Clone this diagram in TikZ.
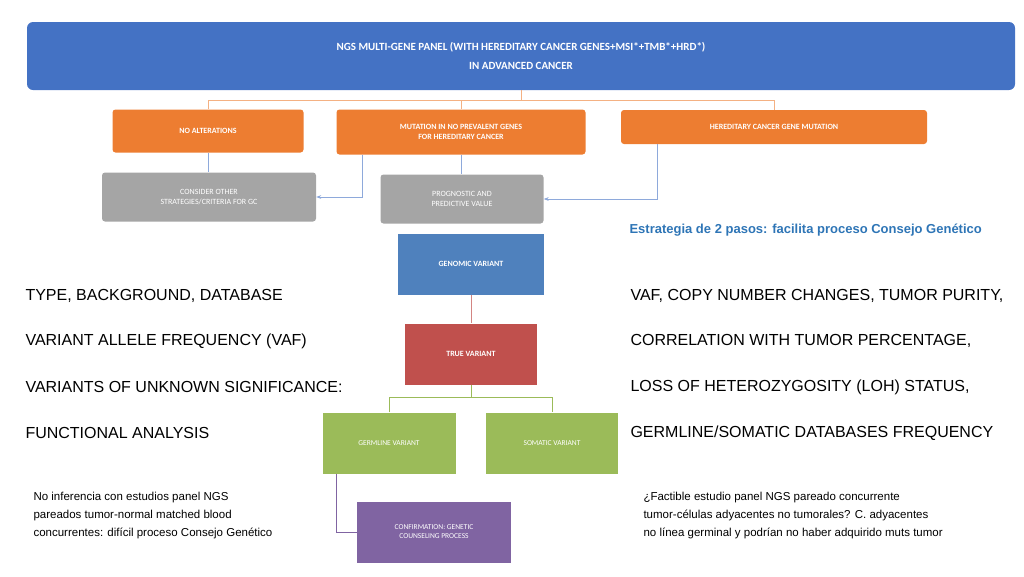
\documentclass[tikz,border=0pt]{standalone}
\usepackage{fontspec}
\setmainfont{Liberation Sans}
\newfontfamily\boxfont{Carlito}
\usetikzlibrary{positioning, calc, arrows.meta}
\definecolor{topblue}{HTML}{4472C4}
\definecolor{orng}{HTML}{ED7D31}
\definecolor{grey}{HTML}{A5A5A5}
\definecolor{genblue}{HTML}{4F81BD}
\definecolor{truered}{HTML}{C0504D}
\definecolor{leafgreen}{HTML}{9BBB59}
\definecolor{purp}{HTML}{8064A2}
\definecolor{linkblue}{HTML}{8EA9DB}
\definecolor{salmon}{HTML}{F4B183}
\definecolor{notetext}{HTML}{2E75B6}
\tikzset{
  box/.style={rectangle, text=white, align=center, inner sep=2pt,
    font=\boxfont\fontsize{8}{9.5}\selectfont\bfseries},
  link/.style={draw, line width=0.7pt},
  side/.style={anchor=west, font=\fontsize{16}{18}\selectfont},
  note/.style={anchor=north west, align=left, font=\fontsize{11.5}{18}\selectfont}
}
\begin{document}
\begin{tikzpicture}[x=1pt, y=-1pt]
  \useasboundingbox (0,0) rectangle (1024,576);
  % Place nodes
  \node [box, fill=topblue, rounded corners=6pt, minimum width=988pt, minimum height=68pt,
    font=\boxfont\fontsize{11}{19}\selectfont\bfseries] (panel) at (521,56)
    {NGS MULTI-GENE PANEL (WITH HEREDITARY CANCER GENES+MSI*+TMB*+HRD*)\\IN ADVANCED CANCER};
  \node [box, fill=orng, rounded corners=3pt, minimum width=191pt, minimum height=43pt] (noalt) at (208,131) {NO ALTERATIONS};
  \node [box, fill=orng, rounded corners=3pt, minimum width=249pt, minimum height=45pt] (nonprev) at (461,132) {MUTATION IN NO PREVALENT GENES\\FOR HEREDITARY CANCER};
  \node [box, fill=orng, rounded corners=3pt, minimum width=306pt, minimum height=34pt] (hered) at (774,127) {HEREDITARY CANCER GENE MUTATION};
  \node [box, fill=grey, rounded corners=3pt, minimum width=214pt, minimum height=49pt, font=\boxfont\fontsize{8}{9.5}\selectfont] (other) at (209,197) {CONSIDER OTHER\\STRATEGIES/CRITERIA FOR GC};
  \node [box, fill=grey, rounded corners=3pt, minimum width=163pt, minimum height=49pt, font=\boxfont\fontsize{8}{9.5}\selectfont] (progn) at (462,199) {PROGNOSTIC AND\\PREDICTIVE VALUE};
  \node [box, fill=genblue, minimum width=146pt, minimum height=61pt] (genomic) at (471,264) {GENOMIC VARIANT};
  \node [box, fill=truered, minimum width=132pt, minimum height=61pt] (true) at (471,354) {TRUE VARIANT};
  \node [box, fill=leafgreen, minimum width=133pt, minimum height=61pt, font=\boxfont\fontsize{7.5}{9}\selectfont] (germ) at (389,443) {GERMLINE VARIANT};
  \node [box, fill=leafgreen, minimum width=132pt, minimum height=61pt, font=\boxfont\fontsize{7.5}{9}\selectfont] (soma) at (552,443) {SOMATIC VARIANT};
  \node [box, fill=purp, minimum width=154pt, minimum height=61pt, font=\boxfont\fontsize{7.5}{9}\selectfont] (confirm) at (434,532) {CONFIRMATION: GENETIC\\COUNSELING PROCESS};
  % Texts
  \node [anchor=west, text=notetext, font=\fontsize{13}{15}\selectfont\bfseries] (steps) at (626,230) {Estrategia de 2 pasos: facilita proceso Consejo Genético};
  \node [side] (l1) at (22,296) {TYPE, BACKGROUND, DATABASE};
  \node [side] (l2) at (22,341) {VARIANT ALLELE FREQUENCY (VAF)};
  \node [side] (l3) at (22,387) {VARIANTS OF UNKNOWN SIGNIFICANCE:};
  \node [side] (l4) at (22,433) {FUNCTIONAL ANALYSIS};
  \node [side] (r1) at (627,296) {VAF, COPY NUMBER CHANGES, TUMOR PURITY,};
  \node [side] (r2) at (627,341) {CORRELATION WITH TUMOR PERCENTAGE,};
  \node [side] (r3) at (627,387) {LOSS OF HETEROZYGOSITY (LOH) STATUS,};
  \node [side] (r4) at (627,433) {GERMLINE/SOMATIC DATABASES FREQUENCY};
  \node [note] (nl) at (30,489) {No inferencia con estudios panel NGS\\pareados tumor-normal matched blood\\concurrentes: difícil proceso Consejo Genético};
  \node [note] (nr) at (640,489) {¿Factible estudio panel NGS pareado concurrente\\tumor-células adyacentes no tumorales? C. adyacentes\\no línea germinal y podrían no haber adquirido muts tumor};
  % Draw edges
  \draw [link, salmon] (panel.south) -- ++(0,10) coordinate (hub);
  \draw [link, salmon] (noalt.north) |- (hub) -| (hered.north);
  \draw [link, salmon] (nonprev.north) -- (nonprev.north |- hub);
  \draw [link, linkblue] (noalt.south) -- (other.north -| noalt.south);
  \draw [link, linkblue] (nonprev.south) -- (progn.north -| nonprev.south);
  \draw [link, linkblue, -{Stealth[length=5pt]}] ($(nonprev.south west)+(26,0)$) |- (other.east);
  \draw [link, linkblue, -{Stealth[length=5pt]}] ($(hered.south west)+(37,0)$) |- (progn.east);
  \draw [link, truered!70] (genomic) -- (true);
  \draw [link, leafgreen] (true.south) -- ++(0,13) coordinate (fork);
  \draw [link, leafgreen] (germ.north) |- (fork) -| (soma.north);
  \draw [link, purp] ($(germ.south west)+(14,0)$) |- (confirm.west);
\end{tikzpicture}
\end{document}
